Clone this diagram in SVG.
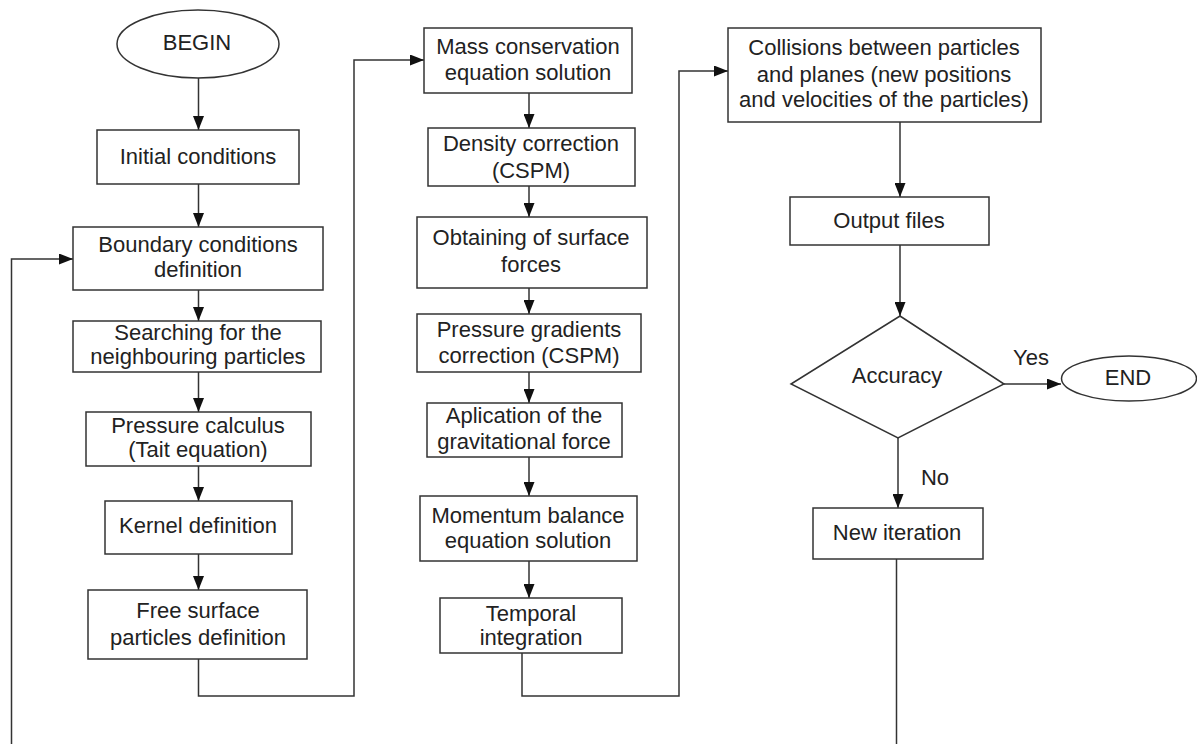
<svg xmlns="http://www.w3.org/2000/svg" width="1197" height="744" viewBox="0 0 1197 744">
  <style>
    .box { fill: #ffffff; stroke: #333333; stroke-width: 1.5; }
    .wire { fill: none; stroke: #333333; stroke-width: 1.5; }
    .lbl { font-family: "Liberation Sans", Arial, sans-serif; font-size: 22px; fill: #222222; text-anchor: middle; }
  </style>
  <defs>
    <marker id="arrow" viewBox="0 0 14 11" refX="14" refY="5.5" markerWidth="14" markerHeight="11" markerUnits="userSpaceOnUse" orient="auto">
      <path d="M0,0 L14,5.5 L0,11 Z" fill="#111111"/>
    </marker>
  </defs>
  <rect width="1197" height="744" fill="#ffffff"/>

  <!-- connectors -->
  <g id="connectors">
    <!-- left column -->
    <line class="wire" x1="198.5" y1="78" x2="198.5" y2="130" marker-end="url(#arrow)"/>
    <line class="wire" x1="198.5" y1="184" x2="198.5" y2="227" marker-end="url(#arrow)"/>
    <line class="wire" x1="198.5" y1="290" x2="198.5" y2="321" marker-end="url(#arrow)"/>
    <line class="wire" x1="198.5" y1="372" x2="198.5" y2="412" marker-end="url(#arrow)"/>
    <line class="wire" x1="198.5" y1="466" x2="198.5" y2="501" marker-end="url(#arrow)"/>
    <line class="wire" x1="198.5" y1="554" x2="198.5" y2="590" marker-end="url(#arrow)"/>
    <!-- left column to middle column -->
    <polyline class="wire" points="198.5,659 198.5,696 354,696 354,60 424,60" marker-end="url(#arrow)"/>
    <!-- middle column -->
    <line class="wire" x1="529" y1="93" x2="529" y2="128" marker-end="url(#arrow)"/>
    <line class="wire" x1="529" y1="186" x2="529" y2="217" marker-end="url(#arrow)"/>
    <line class="wire" x1="529" y1="288" x2="529" y2="314" marker-end="url(#arrow)"/>
    <line class="wire" x1="529" y1="372" x2="529" y2="403" marker-end="url(#arrow)"/>
    <line class="wire" x1="529" y1="457" x2="529" y2="496" marker-end="url(#arrow)"/>
    <line class="wire" x1="529" y1="561" x2="529" y2="598" marker-end="url(#arrow)"/>
    <!-- middle column to right column -->
    <polyline class="wire" points="522,653 522,696 679,696 679,71 728,71" marker-end="url(#arrow)"/>
    <!-- right column -->
    <line class="wire" x1="900" y1="122" x2="900" y2="197" marker-end="url(#arrow)"/>
    <line class="wire" x1="900" y1="245" x2="900" y2="316" marker-end="url(#arrow)"/>
    <line class="wire" x1="1004" y1="384" x2="1061" y2="384" marker-end="url(#arrow)"/>
    <line class="wire" x1="898" y1="438" x2="898" y2="508" marker-end="url(#arrow)"/>
    <!-- loop back to boundary conditions -->
    <line class="wire" x1="896.5" y1="559" x2="896.5" y2="744"/>
    <polyline class="wire" points="11.5,744 11.5,259 73,259" marker-end="url(#arrow)"/>
  </g>

  <!-- left column -->
  <g id="begin">
    <ellipse class="box" cx="198" cy="44" rx="81" ry="34"/>
    <text class="lbl" x="197" y="50">BEGIN</text>
  </g>
  <g id="initial-conditions">
    <rect class="box" x="97" y="130" width="202" height="54"/>
    <text class="lbl" x="198" y="164">Initial conditions</text>
  </g>
  <g id="boundary-conditions">
    <rect class="box" x="73" y="227" width="250" height="63"/>
    <text class="lbl" x="198" y="252">Boundary conditions</text>
    <text class="lbl" x="198" y="277">definition</text>
  </g>
  <g id="neighbour-search">
    <rect class="box" x="73" y="321" width="248" height="51"/>
    <text class="lbl" x="198" y="340">Searching for the</text>
    <text class="lbl" x="198" y="364">neighbouring particles</text>
  </g>
  <g id="pressure-calculus">
    <rect class="box" x="86" y="412" width="225" height="54"/>
    <text class="lbl" x="198" y="433">Pressure calculus</text>
    <text class="lbl" x="198" y="457">(Tait equation)</text>
  </g>
  <g id="kernel-definition">
    <rect class="box" x="105" y="501" width="187" height="53"/>
    <text class="lbl" x="198" y="533">Kernel definition</text>
  </g>
  <g id="free-surface">
    <rect class="box" x="88" y="590" width="219" height="69"/>
    <text class="lbl" x="198" y="618">Free surface</text>
    <text class="lbl" x="198" y="645">particles definition</text>
  </g>

  <!-- middle column -->
  <g id="mass-conservation">
    <rect class="box" x="424" y="28" width="208" height="65"/>
    <text class="lbl" x="528" y="54">Mass conservation</text>
    <text class="lbl" x="528" y="80">equation solution</text>
  </g>
  <g id="density-correction">
    <rect class="box" x="428" y="128" width="207" height="58"/>
    <text class="lbl" x="531" y="151">Density correction</text>
    <text class="lbl" x="531" y="178">(CSPM)</text>
  </g>
  <g id="surface-forces">
    <rect class="box" x="417" y="217" width="230" height="71"/>
    <text class="lbl" x="531" y="245">Obtaining of surface</text>
    <text class="lbl" x="531" y="272">forces</text>
  </g>
  <g id="pressure-gradients">
    <rect class="box" x="417" y="314" width="224" height="58"/>
    <text class="lbl" x="529" y="337">Pressure gradients</text>
    <text class="lbl" x="529" y="363">correction (CSPM)</text>
  </g>
  <g id="gravitational-force">
    <rect class="box" x="427" y="403" width="195" height="54"/>
    <text class="lbl" x="524" y="423">Aplication of the</text>
    <text class="lbl" x="524" y="449">gravitational force</text>
  </g>
  <g id="momentum-balance">
    <rect class="box" x="420" y="496" width="217" height="65"/>
    <text class="lbl" x="528" y="523">Momentum balance</text>
    <text class="lbl" x="528" y="548">equation solution</text>
  </g>
  <g id="temporal-integration">
    <rect class="box" x="440" y="598" width="182" height="55"/>
    <text class="lbl" x="531" y="621">Temporal</text>
    <text class="lbl" x="531" y="645">integration</text>
  </g>

  <!-- right column -->
  <g id="collisions">
    <rect class="box" x="728" y="28" width="313" height="94"/>
    <text class="lbl" x="884" y="55">Collisions between particles</text>
    <text class="lbl" x="884" y="82">and planes (new positions</text>
    <text class="lbl" x="884" y="107">and velocities of the particles)</text>
  </g>
  <g id="output-files">
    <rect class="box" x="790" y="197" width="199" height="48"/>
    <text class="lbl" x="889" y="228">Output files</text>
  </g>
  <g id="accuracy">
    <polygon class="box" points="900,316 1004,384 898,438 791,384"/>
    <text class="lbl" x="897" y="383">Accuracy</text>
  </g>
  <g id="end">
    <ellipse class="box" cx="1129" cy="378.5" rx="67.5" ry="22.5"/>
    <text class="lbl" x="1128" y="385">END</text>
  </g>
  <g id="new-iteration">
    <rect class="box" x="813" y="508" width="170" height="51"/>
    <text class="lbl" x="897" y="540">New iteration</text>
  </g>

  <!-- branch labels -->
  <g id="branch-labels">
    <text class="lbl" x="1031" y="365">Yes</text>
    <text class="lbl" x="935" y="485">No</text>
  </g>
</svg>
